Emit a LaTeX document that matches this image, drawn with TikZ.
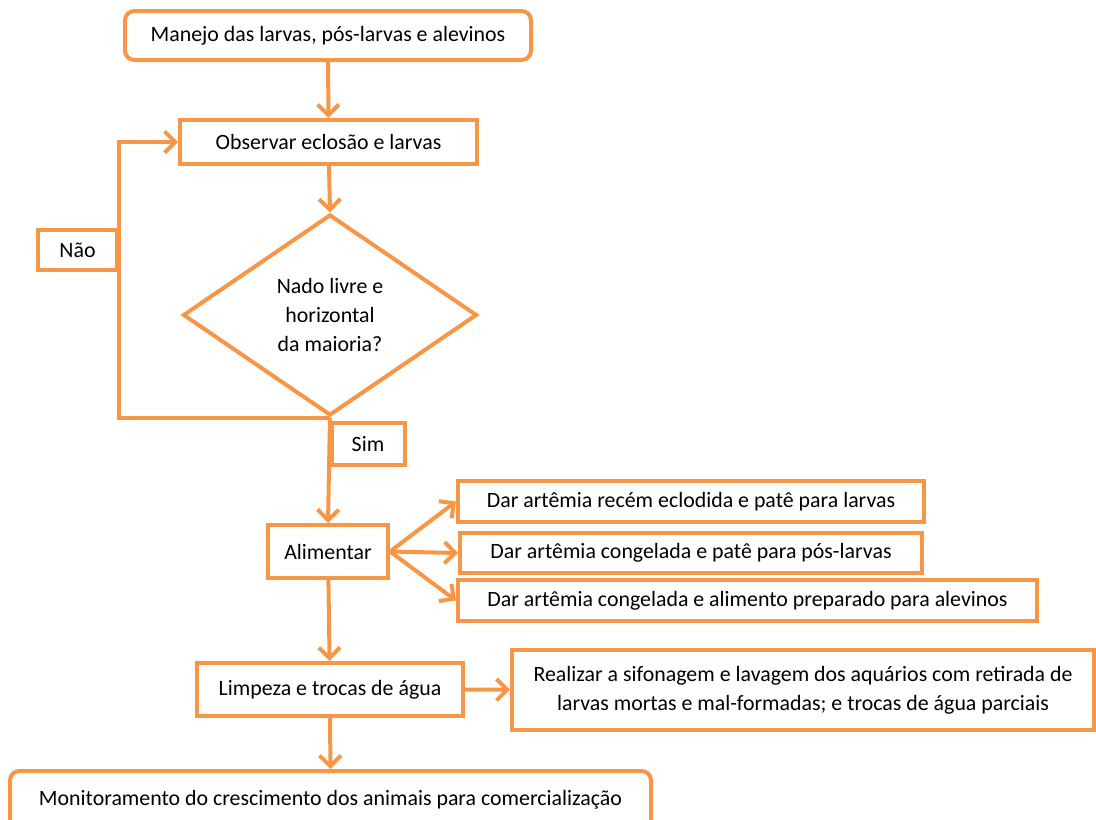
\documentclass[tikz,border=0pt]{standalone}
\usepackage{fontspec}
\setmainfont{Carlito}
\usetikzlibrary{arrows.meta,shapes.geometric}
\definecolor{laranja}{HTML}{F79646}
\tikzset{
	caixa/.style={draw=laranja, line width=3pt, fill=white, inner sep=0pt, align=center, text=black, font=\fontsize{16.4}{21.75}\selectfont},
	arred/.style={caixa, rounded corners=7pt},
	losango/.style={caixa, diamond, aspect=1.46},
	seta/.style={draw=laranja, line width=3pt, -{Straight Barb[length=8pt,width=16pt]}},
}

\begin{document}
\begin{tikzpicture}[x=0.75pt, y=-0.75pt]
			%%%%% START %%%%%
			
			\useasboundingbox (0, 0) rectangle (1096, 819);
			
			% caminho principal
			\node[arred, minimum width=304.5pt, minimum height=36.75pt] (manejo) at (328, 35.5) {Manejo das larvas, pós-larvas e alevinos};
			\node[caixa, minimum width=222.75pt, minimum height=33pt] (observar) at (328.5, 142) {Observar eclosão e larvas};
			\node[losango, minimum width=220.5pt, minimum height=150.75pt] (nado) at (330, 315) {Nado livre e\\horizontal\\da maioria?};
			\node[caixa, minimum width=59.25pt, minimum height=30pt] (nao) at (77.5, 250) {Não};
			\node[caixa, minimum width=54.75pt, minimum height=31.5pt] (sim) at (368, 444) {Sim};
			\node[caixa, minimum width=90pt, minimum height=39.75pt] (alimentar) at (328, 551.5) {Alimentar};
			
			% alimentos
			\node[caixa, minimum width=349.5pt, minimum height=30.75pt] (racao1) at (691, 501.5) {Dar artêmia recém eclodida e patê para larvas};
			\node[caixa, minimum width=346.5pt, minimum height=30pt] (racao2) at (691, 553) {Dar artêmia congelada e patê para pós-larvas};
			\node[caixa, minimum width=434.25pt, minimum height=30.75pt] (racao3) at (747.5, 600.5) {Dar artêmia congelada e alimento preparado para alevinos};
			
			\node[caixa, minimum width=199.5pt, minimum height=39.75pt] (limpeza) at (330, 689.5) {Limpeza e trocas de água};
			\node[caixa, minimum width=436.5pt, minimum height=60pt] (sifonagem) at (803, 690) {Realizar a sifonagem e lavagem dos aquários com retirada de\\larvas mortas e mal-formadas; e trocas de água parciais};
			\node[arred, minimum width=480.75pt, minimum height=43.5pt] (monitor) at (330.5, 800) {Monitoramento do crescimento dos animais para comercialização};
			
			% ligacoes
			\draw[seta] (manejo) -- (observar);
			\draw[seta] (observar) -- (nado.north);
			\draw[seta] (nado.south) -| (nao.east) |- (observar.west);
			\draw[seta] (nado.south) -- (alimentar.north);
			\draw[seta] (alimentar.east) -- (racao1.west);
			\draw[seta] (alimentar.east) -- (racao2.west);
			\draw[seta] (alimentar.east) -- (racao3.west);
			\draw[seta] (alimentar) -- (limpeza);
			\draw[seta] (limpeza) -- (sifonagem);
			\draw[seta] (limpeza) -- (monitor);
			
			%%%%% END %%%%%
\end{tikzpicture}
\end{document}
